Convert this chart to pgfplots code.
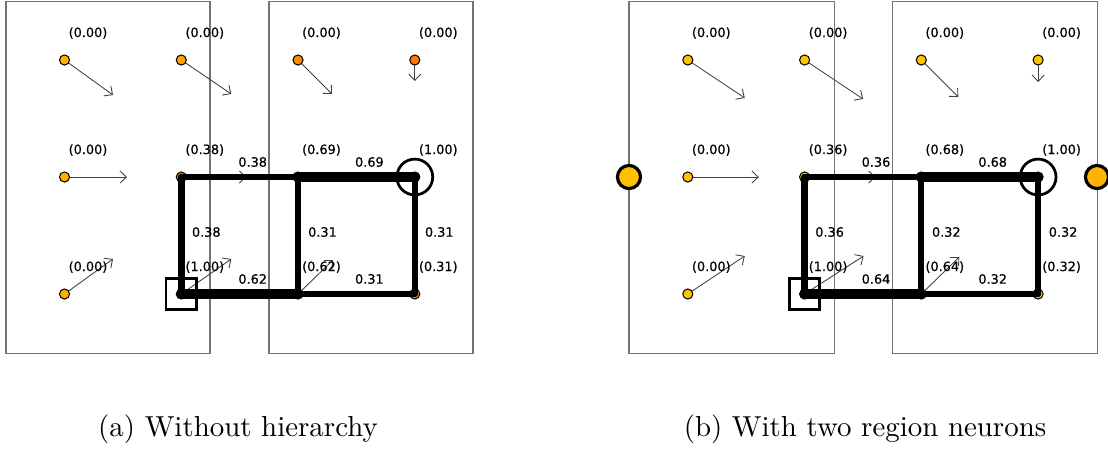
\documentclass[border=0pt]{standalone}
\usepackage{fontspec}
\usepackage{pgfplots}
\usepackage{pgfplotstable}
\pgfplotsset{compat=1.18}
\usetikzlibrary{arrows.meta}
\newfontfamily\lblfont[FakeBold=0.5]{DejaVu Sans}
\newcommand\lbl{\lblfont\fontsize{4.45}{5}\selectfont}
\definecolor{na}{HTML}{FFB000}
\definecolor{nab}{HTML}{FFA200}
\definecolor{nb}{HTML}{FF8C00}
\definecolor{nc}{HTML}{FF7A00}
\definecolor{nd}{HTML}{F08A00}
\definecolor{ya}{HTML}{FFC400}
\definecolor{rl}{HTML}{FFC000}
\definecolor{rr}{HTML}{FFB200}

% node positions (pixel coordinates, y downwards)
\pgfplotstableread{
x y
64.5 60
64.5 177
64.5 294
181.3 294
}\nodesA
\pgfplotstableread{
x y
181.3 60
}\nodesAb
\pgfplotstableread{
x y
298 60
}\nodesAc
\pgfplotstableread{
x y
414.8 60
}\nodesAd
\pgfplotstableread{
x y
181.3 177
298 177
414.8 177
298 294
414.8 294
}\nodesAe
\pgfplotstableread{
x y
687.8 60
804.6 60
921.3 60
1038.1 60
687.8 177
804.6 177
921.3 177
1038.1 177
687.8 294
804.6 294
921.3 294
1038.1 294
}\nodesB
% arrows
\pgfplotstableread{
x y u v
64.5 60 48.5 35
181.3 60 50 34
298 60 34 34
414.8 60 0 21
64.5 177 62.5 0
181.3 177 65 0
64.5 294 48.5 -35
181.3 294 50 -35
298 294 35 -34
687.8 60 57 38
804.6 60 58.5 39
921.3 60 37 37
1038.1 60 0 22
687.8 177 71 0
804.6 177 71 0
687.8 294 57 -38
804.6 294 59 -38
921.3 294 38 -37
}\arrows
% labels
\pgfplotstableread{
x y t
88 33 (0.00)
204.8 33 (0.00)
321.5 33 (0.00)
438.3 33 (0.00)
88 150 (0.00)
204.8 150 (0.38)
321.5 150 (0.69)
438.3 150 (1.00)
88 267 (0.00)
204.8 267 (1.00)
321.5 267 (0.62)
438.3 267 (0.31)
252.7 162 0.38
369.4 162 0.69
252.7 279 0.62
369.4 279 0.31
206.3 232 0.38
322.5 232 0.31
439.3 232 0.31
711.3 33 (0.00)
828.1 33 (0.00)
944.8 33 (0.00)
1061.6 33 (0.00)
711.3 150 (0.00)
828.1 150 (0.36)
944.8 150 (0.68)
1061.6 150 (1.00)
711.3 267 (0.00)
828.1 267 (1.00)
944.8 267 (0.64)
1061.6 267 (0.32)
876 162 0.36
992.7 162 0.68
876 279 0.64
992.7 279 0.32
829.6 232 0.36
946.3 232 0.32
1063.1 232 0.32
}\labels

\begin{document}
\begin{tikzpicture}
\begin{axis}[
  scale only axis, width=383.37pt, height=157.43pt,
  xmin=0, xmax=1108, ymin=0, ymax=455, y dir=reverse,
  hide axis, clip=false, clip marker paths=true,
  every node near coord/.style={anchor=center, inner sep=0pt, font=\lbl, text=black},
]
% region rectangles
\addplot[black!55, line width=0.35pt] coordinates {(6,1) (210,1) (210,353) (6,353) (6,1)};
\addplot[black!55, line width=0.35pt] coordinates {(269,1) (473,1) (473,353) (269,353) (269,1)};
\addplot[black!55, line width=0.35pt] coordinates {(629,1) (834,1) (834,353) (629,353) (629,1)};
\addplot[black!55, line width=0.35pt] coordinates {(892,1) (1097,1) (1097,353) (892,353) (892,1)};
% arrows
\addplot[black!75, line width=0.3pt, -{Straight Barb[length=2.2pt,width=4.2pt]},
  quiver={u=\thisrow{u}, v=\thisrow{v}}] table[x=x,y=y] {\arrows};
% neurons
\addplot[only marks, mark=*, mark size=1.75pt, mark options={fill=na, draw=black, line width=0.35pt}] table {\nodesA};
\addplot[only marks, mark=*, mark size=1.75pt, mark options={fill=nab, draw=black, line width=0.35pt}] table {\nodesAb};
\addplot[only marks, mark=*, mark size=1.75pt, mark options={fill=nb, draw=black, line width=0.35pt}] table {\nodesAc};
\addplot[only marks, mark=*, mark size=1.75pt, mark options={fill=nc, draw=black, line width=0.35pt}] table {\nodesAd};
\addplot[only marks, mark=*, mark size=1.75pt, mark options={fill=nd, draw=black, line width=0.35pt}] table {\nodesAe};
\addplot[only marks, mark=*, mark size=1.75pt, mark options={fill=ya, draw=black, line width=0.35pt}] table {\nodesB};
% region neurons
\addplot[only marks, mark=*, mark size=4pt, mark options={fill=rl, draw=black, line width=1.1pt}] coordinates {(629,177)};
\addplot[only marks, mark=*, mark size=4pt, mark options={fill=rr, draw=black, line width=1.1pt}] coordinates {(1097,177)};
% path edges panel a
\addplot[black, line width=2.27pt, line cap=round] coordinates {(181.3,177) (298,177)};
\addplot[black, line width=3.56pt, line cap=round] coordinates {(298,177) (414.8,177)};
\addplot[black, line width=2.27pt, line cap=round] coordinates {(181.3,177) (181.3,294)};
\addplot[black, line width=1.98pt, line cap=round] coordinates {(298,177) (298,294)};
\addplot[black, line width=1.98pt, line cap=round] coordinates {(414.8,177) (414.8,294)};
\addplot[black, line width=3.27pt, line cap=round] coordinates {(181.3,294) (298,294)};
\addplot[black, line width=1.98pt, line cap=round] coordinates {(298,294) (414.8,294)};
% path edges panel b
\addplot[black, line width=2.19pt, line cap=round] coordinates {(804.6,177) (921.3,177)};
\addplot[black, line width=3.52pt, line cap=round] coordinates {(921.3,177) (1038.1,177)};
\addplot[black, line width=2.19pt, line cap=round] coordinates {(804.6,177) (804.6,294)};
\addplot[black, line width=2.02pt, line cap=round] coordinates {(921.3,177) (921.3,294)};
\addplot[black, line width=2.02pt, line cap=round] coordinates {(1038.1,177) (1038.1,294)};
\addplot[black, line width=3.35pt, line cap=round] coordinates {(804.6,294) (921.3,294)};
\addplot[black, line width=2.02pt, line cap=round] coordinates {(921.3,294) (1038.1,294)};
% start (square) and goal (circle)
\addplot[only marks, mark=square, mark size=5.3pt, mark options={draw=black, line width=1pt}] coordinates {(181.3,294) (804.6,294)};
\addplot[only marks, mark=o, mark size=6.2pt, mark options={draw=black, line width=0.95pt}] coordinates {(414.8,177) (1038.1,177)};
% labels
\addplot[only marks, mark=none, nodes near coords, point meta=explicit symbolic] table[x=x, y=y, meta=t] {\labels};
% captions
\node[anchor=base, inner sep=0pt] at (axis cs:238,436) {(a) Without hierarchy};
\node[anchor=base, inner sep=0pt] at (axis cs:865,436) {(b) With two region neurons};
\end{axis}
\pgfresetboundingbox
\path (current axis.south west) rectangle (current axis.north east);
\end{tikzpicture}
\end{document}
